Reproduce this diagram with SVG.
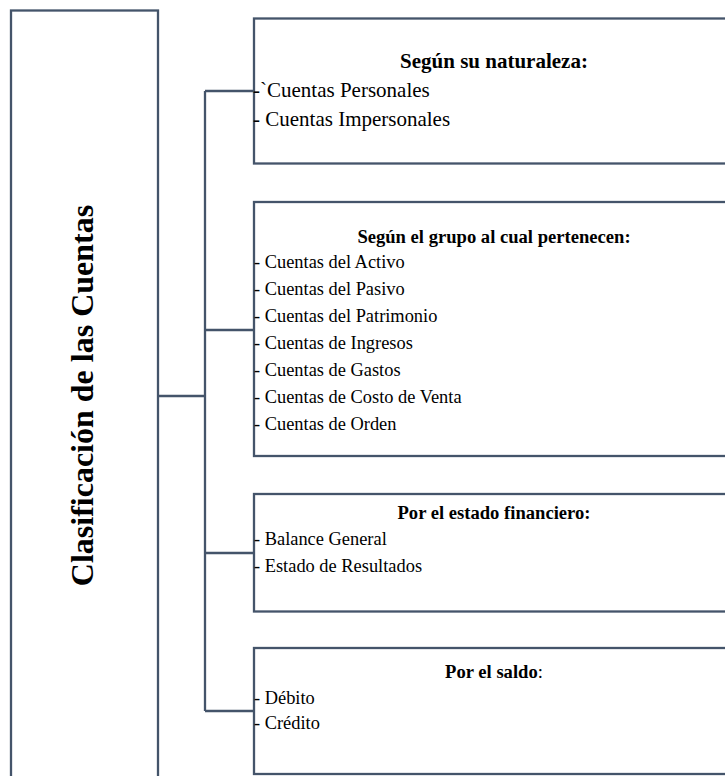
<svg xmlns="http://www.w3.org/2000/svg" width="725" height="776" viewBox="0 0 725 776">
<style>
.box{fill:#ffffff;stroke:#44546A;stroke-width:2.3}
.con{fill:none;stroke:#44546A;stroke-width:2.3}
text{font-family:"Liberation Serif","Times New Roman",serif;fill:#000000}
.h1{font-size:21px;font-weight:bold;text-anchor:middle}
.t1{font-size:21px}
.h{font-size:18.6px;font-weight:bold;text-anchor:middle}
.t{font-size:18.4px}
.title{font-size:32px;font-weight:bold;text-anchor:middle}
</style>
<rect x="0" y="0" width="725" height="776" fill="#ffffff"/>
<g id="connectors">
<path class="con" d="M158,396 H205 M205,91 V711 M205,91 H254 M205,330 H254 M205,553 H254 M205,711 H254"/>
</g>
<g id="root">
<rect class="box" x="11" y="10.5" width="147" height="790"/>
<text class="title" transform="translate(93,395.5) rotate(-90)">Clasificación de las Cuentas</text>
</g>
<g id="naturaleza">
<rect class="box" x="254" y="18.5" width="500" height="145"/>
<text class="h1" x="494" y="68">Según su naturaleza:</text>
<text class="t1" x="253" y="97">-`Cuentas Personales</text>
<text class="t1" x="253" y="126">- Cuentas Impersonales</text>
</g>
<g id="grupo">
<rect class="box" x="254" y="202" width="500" height="254"/>
<text class="h" x="494" y="243">Según el grupo al cual pertenecen:</text>
<text class="t" x="254" y="268">- Cuentas del Activo</text>
<text class="t" x="254" y="295">- Cuentas del Pasivo</text>
<text class="t" x="254" y="322">- Cuentas del Patrimonio</text>
<text class="t" x="254" y="349">- Cuentas de Ingresos</text>
<text class="t" x="254" y="376">- Cuentas de Gastos</text>
<text class="t" x="254" y="403">- Cuentas de Costo de Venta</text>
<text class="t" x="254" y="429.5">- Cuentas de Orden</text>
</g>
<g id="estado">
<rect class="box" x="254" y="494" width="500" height="117.5"/>
<text class="h" x="494" y="519">Por el estado financiero:</text>
<text class="t" x="254" y="545">- Balance General</text>
<text class="t" x="254" y="571.5">- Estado de Resultados</text>
</g>
<g id="saldo">
<rect class="box" x="254" y="648" width="500" height="126"/>
<text class="h" x="494" y="677.5"><tspan font-weight="bold">Por el saldo</tspan><tspan font-weight="normal">:</tspan></text>
<text class="t" x="254" y="704">- Débito</text>
<text class="t" x="254" y="729">- Crédito</text>
</g>
</svg>
